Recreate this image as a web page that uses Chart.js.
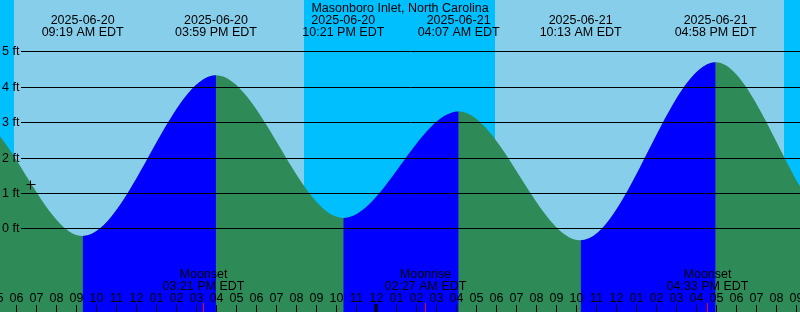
<!DOCTYPE html>
<html>
<head>
<meta charset="utf-8">
<script src="https://cdn.jsdelivr.net/npm/chart.js@4.4.1/dist/chart.umd.min.js"></script>
<style>
  html, body { margin: 0; padding: 0; background: #87CEEB; }
  #tide { display: block; }
</style>
</head>
<body>
<canvas id="tide" width="800" height="312"></canvas>
<script>
// ================= DATA =================
// time = hours since 2025-06-20 00:00 EDT, level = feet (highs and lows, incl. two beyond each edge)
const tideTimes  = [-2.6, 3.6,  9.317, 15.983, 22.35, 28.117, 34.217, 40.967, 47.2, 53.4];
const tideLevels = [0.1,  3.25, -0.22, 4.32,   0.29,  3.30,  -0.34,   4.69,   0.05, 3.6];

// high / low labels
const extremeTimes = [9.317, 15.983, 22.35, 28.117, 34.217, 40.967];
const extremeDates = ["2025-06-20", "2025-06-20", "2025-06-20", "2025-06-21", "2025-06-21", "2025-06-21"];
const extremeClock = ["09:19 AM EDT", "03:59 PM EDT", "10:21 PM EDT", "04:07 AM EDT", "10:13 AM EDT", "04:58 PM EDT"];

// night (sunset -> sunrise)
const nightStart = [0, 20.385, 44.385];
const nightEnd   = [5.885, 29.935, 50];

// moon events
const moonTimes  = [15.35, 26.45, 40.55];
const moonNames  = ["Moonset", "Moonrise", "Moonset"];
const moonClock  = ["03:21 PM EDT", "02:27 AM EDT", "04:33 PM EDT"];

const levelTicks = [0, 1, 2, 3, 4, 5];
const nowMark = { t: 6.685, ft: 1.25 };

const title = "Masonboro Inlet, North Carolina";
const xMin = 5.185, xMax = 45.185;
const yMin = -2.364, yMax = 6.449;

// ================= COLORS =================
const DAY = "#87CEEB", NIGHT = "#00BFFF", RISE = "#0000FF", FALL = "#2E8B57";
const FONT = "12.5px 'Liberation Sans', Arial, sans-serif";

// ================= PLUGIN =================
const tidePlugin = {
  id: "tideDecor",
  beforeDatasetsDraw(chart) {
    const { ctx, chartArea: a, scales: { x } } = chart;
    ctx.save();
    ctx.fillStyle = DAY;
    ctx.fillRect(a.left, a.top, a.width, a.height);
    ctx.fillStyle = NIGHT;
    nightStart.forEach((s, i) => {
      const x0 = x.getPixelForValue(s), x1 = x.getPixelForValue(nightEnd[i]);
      ctx.fillRect(x0, a.top, x1 - x0, a.height);
    });
    ctx.restore();
  },
  afterDatasetsDraw(chart) {
    const { ctx, chartArea: a, scales: { x, y } } = chart;
    ctx.save();
    ctx.font = FONT;
    ctx.fillStyle = "#000";
    ctx.strokeStyle = "#000";
    ctx.lineWidth = 1;

    // level lines
    levelTicks.forEach(v => {
      const py = Math.round(y.getPixelForValue(v)) + 0.5;
      ctx.beginPath();
      ctx.moveTo(21, py); ctx.lineTo(a.right, py);
      ctx.stroke();
      ctx.textAlign = "left"; ctx.textBaseline = "middle";
      ctx.fillText(v + " ft", 2, py);
    });

    // title + extremes
    ctx.textAlign = "center"; ctx.textBaseline = "alphabetic";
    ctx.fillText(title, 400, 12);
    extremeTimes.forEach((t, i) => {
      const px = x.getPixelForValue(t);
      ctx.fillText(extremeDates[i], px, 24);
      ctx.fillText(extremeClock[i], px, 36);
    });

    // hour ticks
    for (let h = Math.ceil(xMin) - 1; h <= Math.floor(xMax) + 1; h++) {
      const px = Math.round(x.getPixelForValue(h)) + 0.5;
      const hh = (h % 12) || 12;
      ctx.fillText(String(hh).padStart(2, "0"), px, 302);
      if (h % 24 === 0) {
        ctx.fillRect(px - 2, 304, 3, 8);
      } else {
        ctx.beginPath(); ctx.moveTo(px, 305); ctx.lineTo(px, 312); ctx.stroke();
      }
    }

    // moon events
    moonTimes.forEach((t, i) => {
      const px = Math.round(x.getPixelForValue(t)) + 0.5;
      ctx.fillStyle = "#000";
      ctx.fillText(moonNames[i], px, 278);
      ctx.fillText(moonClock[i], px, 290);
      ctx.strokeStyle = "#FF0000";
      ctx.beginPath(); ctx.moveTo(px, 303); ctx.lineTo(px, 312); ctx.stroke();
    });

    // current time cross
    const cx = Math.round(x.getPixelForValue(nowMark.t)) + 0.5;
    const cy = Math.round(y.getPixelForValue(nowMark.ft)) + 0.5;
    ctx.strokeStyle = "#000";
    ctx.beginPath();
    ctx.moveTo(cx - 4, cy); ctx.lineTo(cx + 5, cy);
    ctx.moveTo(cx, cy - 4); ctx.lineTo(cx, cy + 5);
    ctx.stroke();
    ctx.restore();
  }
};

// ================= CHART =================
const points = tideTimes.map((t, i) => ({ x: t, y: tideLevels[i] }));
const common = { fill: "start", borderWidth: 0, pointRadius: 0, cubicInterpolationMode: "monotone", capBezierPoints: false };

new Chart(document.getElementById("tide"), {
  type: "line",
  data: {
    datasets: [
      // rising parts, on top
      { ...common, data: points, order: 0, backgroundColor: RISE,
        segment: { backgroundColor: c => c.p1.parsed.y > c.p0.parsed.y ? RISE : "rgba(0,0,0,0)" } },
      // whole curve in falling colour underneath
      { ...common, data: points, order: 1, backgroundColor: FALL }
    ]
  },
  options: {
    responsive: false,
    animation: false,
    devicePixelRatio: 1,
    layout: { padding: 0 },
    elements: { line: { capBezierPoints: false } },
    plugins: { legend: { display: false }, tooltip: { enabled: false } },
    scales: {
      x: { type: "linear", min: xMin, max: xMax, display: false },
      y: { min: yMin, max: yMax, display: false }
    }
  },
  plugins: [tidePlugin]
});
</script>
</body>
</html>
